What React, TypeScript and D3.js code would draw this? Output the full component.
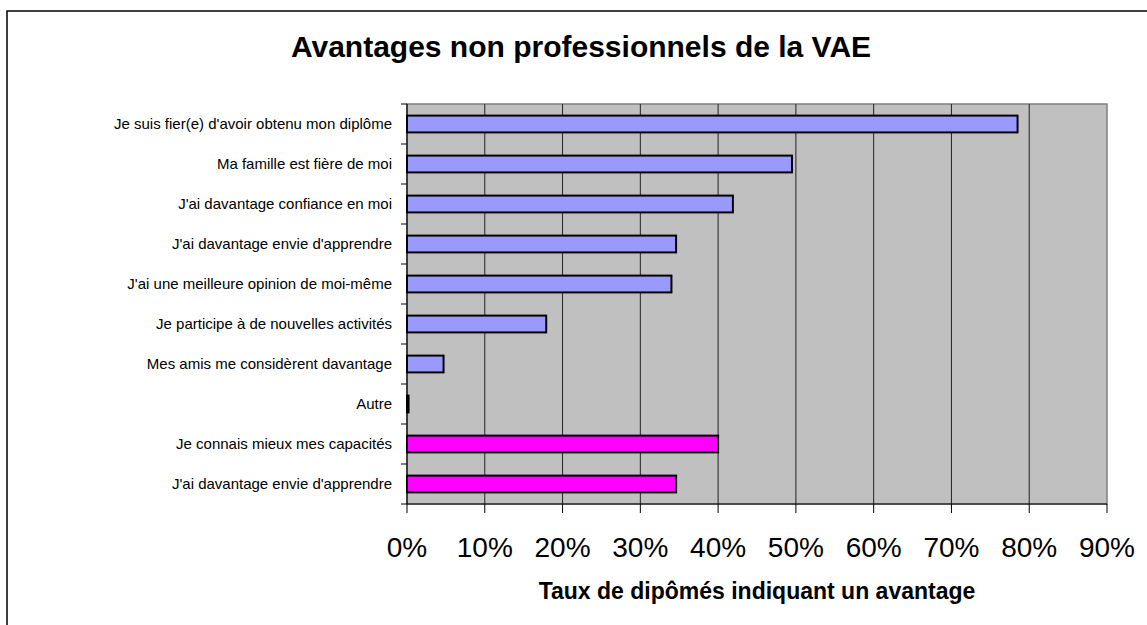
import React from "react";
import * as d3 from "d3";

const categories = [
  "Je suis fier(e) d'avoir obtenu mon diplôme",
  "Ma famille est fière de moi",
  "J'ai davantage confiance en moi",
  "J'ai davantage envie d'apprendre",
  "J'ai une meilleure opinion de moi-même",
  "Je participe à de nouvelles activités",
  "Mes amis me considèrent davantage",
  "Autre",
  "Je connais mieux mes capacités",
  "J'ai davantage envie d'apprendre ",
];
const values = [78.5, 49.5, 41.9, 34.6, 34.0, 17.9, 4.7, 0.2, 40.0, 34.6];
const groups = ["a", "a", "a", "a", "a", "a", "a", "a", "b", "b"];
const xTicks = [0, 10, 20, 30, 40, 50, 60, 70, 80, 90];
const groupColors: Record<string, string> = { a: "#9999FF", b: "#FF00FF" };

const W = 1147;
const H = 625;
const FONT = "'Liberation Sans', Arial, Helvetica, sans-serif";

export default function App() {
  const left = 407;
  const right = 1107;
  const top = 104;
  const bottom = 504;
  const x = d3.scaleLinear().domain([0, 90]).range([left, right]);
  const y = d3.scaleBand<string>().domain(categories).range([top, bottom]).paddingInner(0.58).paddingOuter(0.29);
  const yb = d3.scaleBand<string>().domain(categories).range([top, bottom]);
  const boundaries = d3.range(categories.length + 1).map((i) => top + i * yb.step());

  return (
    <svg width={W} height={H} style={{ position: "absolute", left: 0, top: 0, background: "#fff" }}>
      <rect x={7} y={11} width={W + 10} height={H + 10} fill="#fff" stroke="#000" strokeWidth={1.5} />
      <text x={581} y={57} textAnchor="middle" fontFamily={FONT} fontWeight="bold" fontSize={30} fill="#000">
        Avantages non professionnels de la VAE
      </text>
      <rect x={left} y={top} width={right - left} height={bottom - top} fill="#C0C0C0" stroke="#808080" strokeWidth={1.5} />
      {xTicks.slice(1, -1).map((t) => (
        <line key={"g" + t} x1={x(t)} x2={x(t)} y1={top} y2={bottom} stroke="#222" strokeWidth={1} />
      ))}
      {categories.map((c, i) => (
        <rect
          key={"b" + i}
          x={x(0)}
          y={y(c)!}
          width={Math.max(x(values[i]) - x(0), 1.5)}
          height={y.bandwidth()}
          fill={groupColors[groups[i]]}
          stroke="#000"
          strokeWidth={2}
        />
      ))}
      <line x1={left} x2={left} y1={top} y2={bottom} stroke="#000" strokeWidth={1.2} />
      <line x1={left} x2={right} y1={bottom} y2={bottom} stroke="#000" strokeWidth={1.2} />
      {boundaries.map((b, i) => (
        <line key={"yt" + i} x1={left - 6} x2={left} y1={b} y2={b} stroke="#000" strokeWidth={1} />
      ))}
      {xTicks.map((t) => (
        <line key={"xt" + t} x1={x(t)} x2={x(t)} y1={bottom} y2={bottom + 9} stroke="#000" strokeWidth={1} />
      ))}
      {categories.map((c, i) => (
        <text
          key={"l" + i}
          x={392}
          y={yb(c)! + yb.bandwidth() / 2}
          dy="0.35em"
          textAnchor="end"
          fontFamily={FONT}
          fontSize={15}
          fill="#000"
        >
          {c}
        </text>
      ))}
      {xTicks.map((t) => (
        <text key={"xl" + t} x={x(t)} y={557} textAnchor="middle" fontFamily={FONT} fontSize={28} fill="#000">
          {t + "%"}
        </text>
      ))}
      <text x={757} y={599} textAnchor="middle" fontFamily={FONT} fontWeight="bold" fontSize={23} fill="#000">
        Taux de dipômés indiquant un avantage
      </text>
    </svg>
  );
}
